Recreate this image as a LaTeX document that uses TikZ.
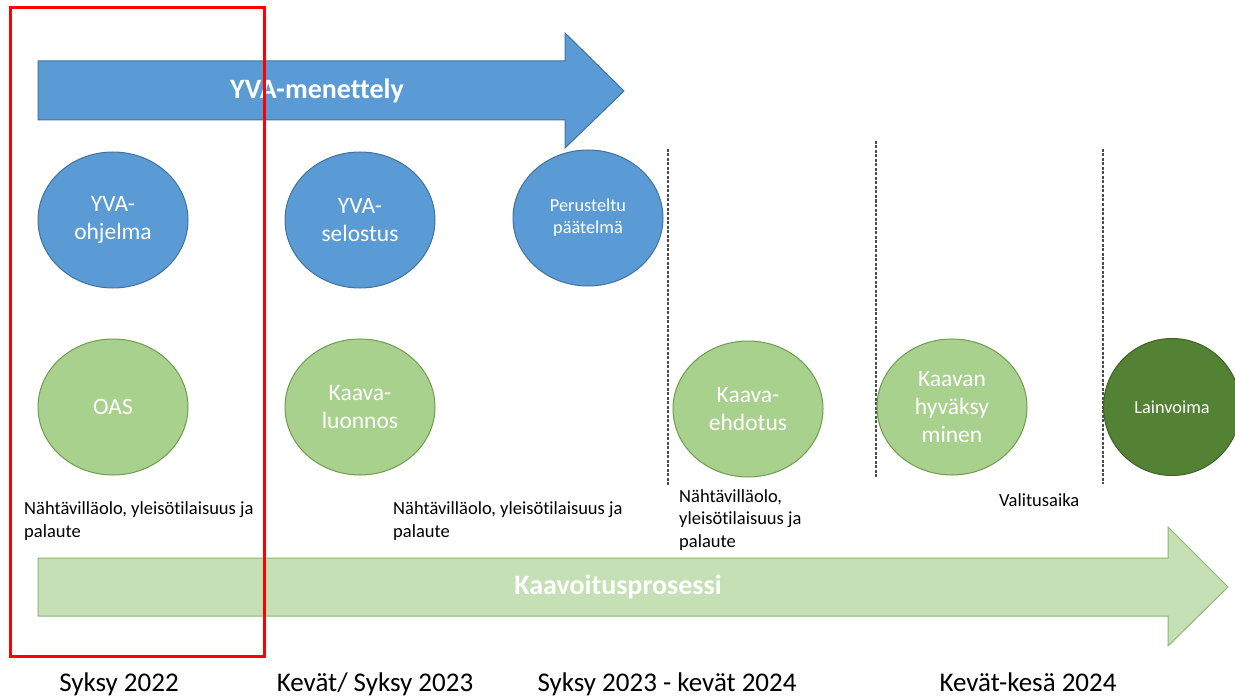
\documentclass[tikz,border=0pt]{standalone}
\usepackage{fontspec}
\setmainfont{Carlito}[Ligatures=NoCommon]
\usetikzlibrary{shapes.geometric}
\definecolor{ablue}{HTML}{5B9BD5}
\definecolor{abluedark}{HTML}{41719C}
\definecolor{lgreen}{HTML}{A9D18E}
\definecolor{lgreendark}{HTML}{6E9B4E}
\definecolor{pgreen}{HTML}{C5E0B4}
\definecolor{pgreendark}{HTML}{8CB873}
\definecolor{dgreen}{HTML}{548235}
\definecolor{dgreendark}{HTML}{3E6127}
\begin{document}
\begin{tikzpicture}[x=1pt,y=-1pt,
  bubble/.style={ellipse, minimum width=150pt, minimum height=136pt, inner sep=0pt, align=center, text=white, line width=1pt,
     font=\fontsize{23.5}{28}\selectfont},
  bluebubble/.style={bubble, fill=ablue, draw=abluedark},
  greenbubble/.style={bubble, fill=lgreen, draw=lgreendark},
  darkbubble/.style={bubble, fill=dgreen, draw=dgreendark},
  smalltext/.style={font=\fontsize{18.3}{22}\selectfont},
  arrowtext/.style={text=white, font=\bfseries\fontsize{28}{32}\selectfont, inner sep=0pt},
  note/.style={anchor=base west, align=left, inner sep=0pt, font=\fontsize{18.5}{22.5}\selectfont},
  period/.style={anchor=base, inner sep=0pt, font=\fontsize{27}{32}\selectfont},
  divider/.style={draw=black!70, line width=1.2pt, dash pattern=on 3pt off 1.5pt}
]
\useasboundingbox (0,0) rectangle (1235,698);
\clip (0,0) rectangle (1235,698);

% YVA arrow
\draw[fill=ablue, draw=abluedark, line width=1pt]
  (38,61) -- (565,61) -- (565,33) -- (624,91) -- (565,148) -- (565,120) -- (38,120) -- cycle;
\node[arrowtext] (yva) at (317,91) {YVA-menettely};

% Kaavoitus arrow
\draw[fill=pgreen, draw=pgreendark, line width=1pt]
  (38,558) -- (1168,558) -- (1168,527) -- (1228,587) -- (1168,646) -- (1168,616) -- (38,616) -- cycle;
\node[arrowtext] (kaav) at (618,587) {Kaavoitusprosessi};

% dividers
\draw[divider] (668,149) -- (668,486);
\draw[divider] (876,141) -- (876,477);
\draw[divider] (1103,149) -- (1103,484);

% blue bubbles
\node[bluebubble] (ohj) at (113,220) {YVA-\\ohjelma};
\node[bluebubble] (sel) at (360,220) {YVA-\\selostus};
\node[bluebubble, smalltext] (per) at (588,218) {Perusteltu\\päätelmä};

% green bubbles
\node[greenbubble] (oas) at (113,407) {OAS};
\node[greenbubble] (luo) at (360,407) {Kaava-\\luonnos};
\node[greenbubble] (ehd) at (748,409) {Kaava-\\ehdotus};
\node[greenbubble] (hyv) at (952,407) {Kaavan\\hyväksy\\minen};
\node[darkbubble, smalltext, minimum width=137pt, minimum height=137pt] (lai) at (1172,407) {Lainvoima};

% notes (base = last line)
\node[note] (n1) at (24,537) {Nähtävilläolo, yleisötilaisuus ja\\palaute};
\node[note] (n2) at (393,537) {Nähtävilläolo, yleisötilaisuus ja\\palaute};
\node[note] (n3) at (679,547) {Nähtävilläolo,\\yleisötilaisuus ja\\palaute};
\node[note] (n4) at (999,506) {Valitusaika};

% periods
\node[period] (p1) at (119,691) {Syksy 2022};
\node[period] (p2) at (375,691) {Kevät/ Syksy 2023};
\node[period] (p3) at (667,691) {Syksy 2023 - kevät 2024};
\node[period] (p4) at (1028,691) {Kevät-kesä 2024};

% red frame
\draw[red, line width=3pt] (10,8) rectangle (264,656);
\end{tikzpicture}
\end{document}
